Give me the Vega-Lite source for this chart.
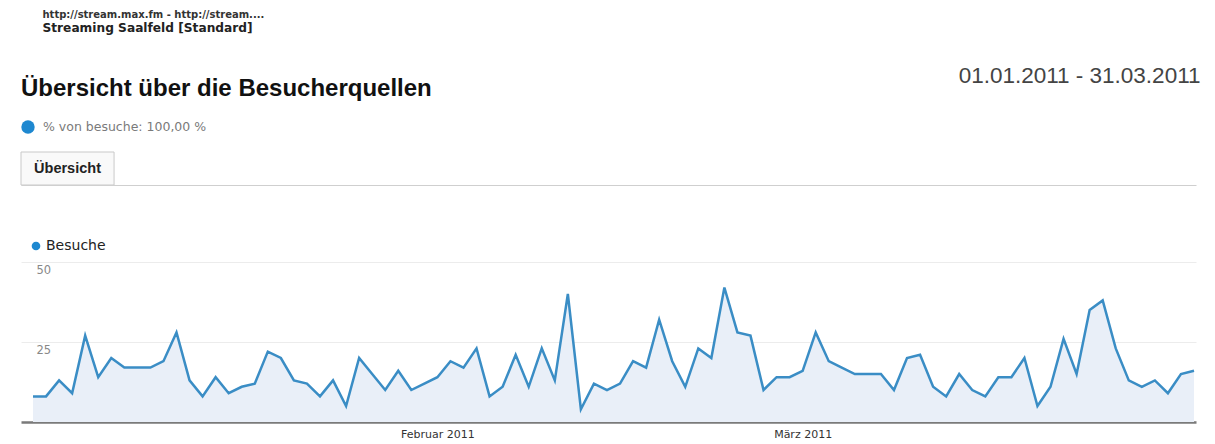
{
  "$schema": "https://vega.github.io/schema/vega-lite/v6.json",
  "background": "white",
  "padding": {"left": 20, "top": 9, "right": 10, "bottom": 0},
  "title": {
    "text": "http://stream.max.fm - http://stream....",
    "subtitle": "Streaming Saalfeld [Standard]",
    "anchor": "start",
    "frame": "bounds",
    "dx": 22,
    "offset": 30,
    "font": "DejaVu Sans",
    "fontSize": 10,
    "fontWeight": "bold",
    "color": "#333333",
    "subtitleFont": "DejaVu Sans",
    "subtitleFontSize": 12.2,
    "subtitleFontWeight": "bold",
    "subtitleColor": "#222222",
    "subtitlePadding": 2
  },
  "spacing": 53,
  "resolve": {"scale": {"color": "independent"}, "legend": {"color": "independent"}},
  "vconcat": [
    {
      "width": 1175,
      "height": 33,
      "title": {
        "text": "Übersicht über die Besucherquellen",
        "anchor": "start",
        "frame": "group",
        "offset": -37,
        "font": "Liberation Sans",
        "fontSize": 24,
        "fontWeight": "bold",
        "color": "#111111"
      },
      "data": {"values": [{"tab": "Übersicht"}]},
      "layer": [
        {
          "mark": {"type": "rect", "fill": "#f9f9f9", "stroke": "#c9c9c9", "strokeWidth": 1},
          "encoding": {
            "x": {
              "field": "tab",
              "type": "nominal",
              "scale": {"paddingInner": 0.828, "paddingOuter": 1, "align": 0},
              "axis": {"orient": "bottom", "title": null, "labels": false, "ticks": false, "grid": false, "domain": true, "domainColor": "#cfcfcf", "domainWidth": 1}
            }
          }
        },
        {
          "mark": {"type": "text", "font": "Liberation Sans", "fontSize": 14.5, "fontWeight": "bold", "color": "#222222"},
          "encoding": {
            "x": {"field": "tab", "type": "nominal"},
            "text": {"field": "tab"}
          }
        },
        {
          "mark": {"type": "point", "filled": true, "opacity": 0},
          "encoding": {
            "y": {
              "datum": 0,
              "type": "quantitative",
              "axis": {
                "orient": "right",
                "title": "01.01.2011 - 31.03.2011",
                "titleAngle": 0,
                "titleAlign": "right",
                "titleBaseline": "middle",
                "titleX": 4,
                "titleY": -77,
                "titleFont": "Liberation Sans",
                "titleFontSize": 22.5,
                "titleFontWeight": "normal",
                "titleColor": "#444444",
                "labels": false,
                "ticks": false,
                "domain": false,
                "grid": false
              }
            },
            "color": {
              "datum": "% von besuche: 100,00 %",
              "type": "nominal",
              "scale": {"range": ["#1e88d0"]},
              "legend": {
                "orient": "none",
                "legendX": 0,
                "legendY": -32,
                "title": null,
                "symbolType": "circle",
                "symbolSize": 180,
                "labelFont": "DejaVu Sans",
                "labelFontSize": 12.5,
                "labelColor": "#7a7a7a",
                "labelOffset": 8,
                "labelLimit": 500,
                "encode": {"symbols": {"update": {"opacity": {"value": 1}, "fill": {"value": "#1e88d0"}, "strokeWidth": {"value": 0}}}}
              }
            }
          }
        }
      ]
    },
    {
      "width": 1175,
      "height": 160,
      "data": {
        "values": [
          {"date": "2011-01-01", "Besuche": 8}, {"date": "2011-01-02", "Besuche": 8}, {"date": "2011-01-03", "Besuche": 13},
          {"date": "2011-01-04", "Besuche": 9}, {"date": "2011-01-05", "Besuche": 27}, {"date": "2011-01-06", "Besuche": 14},
          {"date": "2011-01-07", "Besuche": 20}, {"date": "2011-01-08", "Besuche": 17}, {"date": "2011-01-09", "Besuche": 17},
          {"date": "2011-01-10", "Besuche": 17}, {"date": "2011-01-11", "Besuche": 19}, {"date": "2011-01-12", "Besuche": 28},
          {"date": "2011-01-13", "Besuche": 13}, {"date": "2011-01-14", "Besuche": 8}, {"date": "2011-01-15", "Besuche": 14},
          {"date": "2011-01-16", "Besuche": 9}, {"date": "2011-01-17", "Besuche": 11}, {"date": "2011-01-18", "Besuche": 12},
          {"date": "2011-01-19", "Besuche": 22}, {"date": "2011-01-20", "Besuche": 20}, {"date": "2011-01-21", "Besuche": 13},
          {"date": "2011-01-22", "Besuche": 12}, {"date": "2011-01-23", "Besuche": 8}, {"date": "2011-01-24", "Besuche": 13},
          {"date": "2011-01-25", "Besuche": 5}, {"date": "2011-01-26", "Besuche": 20}, {"date": "2011-01-27", "Besuche": 15},
          {"date": "2011-01-28", "Besuche": 10}, {"date": "2011-01-29", "Besuche": 16}, {"date": "2011-01-30", "Besuche": 10},
          {"date": "2011-01-31", "Besuche": 12},
          {"date": "2011-02-01", "Besuche": 14}, {"date": "2011-02-02", "Besuche": 19}, {"date": "2011-02-03", "Besuche": 17},
          {"date": "2011-02-04", "Besuche": 23}, {"date": "2011-02-05", "Besuche": 8}, {"date": "2011-02-06", "Besuche": 11},
          {"date": "2011-02-07", "Besuche": 21}, {"date": "2011-02-08", "Besuche": 11}, {"date": "2011-02-09", "Besuche": 23},
          {"date": "2011-02-10", "Besuche": 13}, {"date": "2011-02-11", "Besuche": 40}, {"date": "2011-02-12", "Besuche": 4},
          {"date": "2011-02-13", "Besuche": 12}, {"date": "2011-02-14", "Besuche": 10}, {"date": "2011-02-15", "Besuche": 12},
          {"date": "2011-02-16", "Besuche": 19}, {"date": "2011-02-17", "Besuche": 17}, {"date": "2011-02-18", "Besuche": 32},
          {"date": "2011-02-19", "Besuche": 19}, {"date": "2011-02-20", "Besuche": 11}, {"date": "2011-02-21", "Besuche": 23},
          {"date": "2011-02-22", "Besuche": 20}, {"date": "2011-02-23", "Besuche": 42}, {"date": "2011-02-24", "Besuche": 28},
          {"date": "2011-02-25", "Besuche": 27}, {"date": "2011-02-26", "Besuche": 10}, {"date": "2011-02-27", "Besuche": 14},
          {"date": "2011-02-28", "Besuche": 14},
          {"date": "2011-03-01", "Besuche": 16}, {"date": "2011-03-02", "Besuche": 28}, {"date": "2011-03-03", "Besuche": 19},
          {"date": "2011-03-04", "Besuche": 17}, {"date": "2011-03-05", "Besuche": 15}, {"date": "2011-03-06", "Besuche": 15},
          {"date": "2011-03-07", "Besuche": 15}, {"date": "2011-03-08", "Besuche": 10}, {"date": "2011-03-09", "Besuche": 20},
          {"date": "2011-03-10", "Besuche": 21}, {"date": "2011-03-11", "Besuche": 11}, {"date": "2011-03-12", "Besuche": 8},
          {"date": "2011-03-13", "Besuche": 15}, {"date": "2011-03-14", "Besuche": 10}, {"date": "2011-03-15", "Besuche": 8},
          {"date": "2011-03-16", "Besuche": 14}, {"date": "2011-03-17", "Besuche": 14}, {"date": "2011-03-18", "Besuche": 20},
          {"date": "2011-03-19", "Besuche": 5}, {"date": "2011-03-20", "Besuche": 11}, {"date": "2011-03-21", "Besuche": 26},
          {"date": "2011-03-22", "Besuche": 15}, {"date": "2011-03-23", "Besuche": 35}, {"date": "2011-03-24", "Besuche": 38},
          {"date": "2011-03-25", "Besuche": 23}, {"date": "2011-03-26", "Besuche": 13}, {"date": "2011-03-27", "Besuche": 11},
          {"date": "2011-03-28", "Besuche": 13}, {"date": "2011-03-29", "Besuche": 9}, {"date": "2011-03-30", "Besuche": 15},
          {"date": "2011-03-31", "Besuche": 16}
        ]
      },
      "encoding": {
        "x": {
          "field": "date",
          "type": "temporal",
          "scale": {
            "type": "utc",
            "domain": [
              {"year": 2010, "month": 12, "date": 31, "hours": 1, "minutes": 55, "utc": true},
              {"year": 2011, "month": 3, "date": 31, "hours": 3, "minutes": 40, "utc": true}
            ]
          },
          "axis": {
            "title": null,
            "values": [
              {"year": 2011, "month": 2, "date": 1, "utc": true},
              {"year": 2011, "month": 3, "date": 1, "utc": true}
            ],
            "labelExpr": "utcmonth(datum.value) == 1 ? 'Februar 2011' : 'März 2011'",
            "labelFont": "DejaVu Sans",
            "labelFontSize": 11,
            "labelColor": "#333333",
            "labelPadding": 6,
            "ticks": false,
            "tickSize": 0,
            "grid": false,
            "domain": true,
            "domainColor": "#7a7a7a",
            "domainWidth": 2.5
          }
        },
        "y": {
          "field": "Besuche",
          "type": "quantitative",
          "scale": {"domain": [0, 50], "nice": false},
          "axis": {
            "title": null,
            "values": [25, 50],
            "grid": true,
            "gridColor": "#ececec",
            "gridWidth": 1,
            "domain": false,
            "ticks": false,
            "tickSize": 0,
            "labelAlign": "left",
            "labelBaseline": "top",
            "labelPadding": -15,
            "labelOffset": 2,
            "labelFont": "DejaVu Sans",
            "labelFontSize": 11.5,
            "labelColor": "#888888"
          }
        }
      },
      "layer": [
        {"mark": {"type": "area", "color": "#e9eff8", "opacity": 1}},
        {
          "mark": {"type": "line", "strokeWidth": 2.5},
          "encoding": {
            "color": {
              "datum": "Besuche",
              "type": "nominal",
              "scale": {"range": ["#3a8dc5"]},
              "legend": {
                "orient": "none",
                "legendX": 8,
                "legendY": -23,
                "title": null,
                "symbolType": "circle",
                "symbolSize": 75,
                "labelFont": "DejaVu Sans",
                "labelFontSize": 14,
                "labelColor": "#222222",
                "labelOffset": 3,
                "encode": {"symbols": {"update": {"fill": {"value": "#1e88d0"}, "strokeWidth": {"value": 0}, "opacity": {"value": 1}}}}
              }
            }
          }
        }
      ]
    }
  ],
  "config": {"view": {"stroke": null}}
}
